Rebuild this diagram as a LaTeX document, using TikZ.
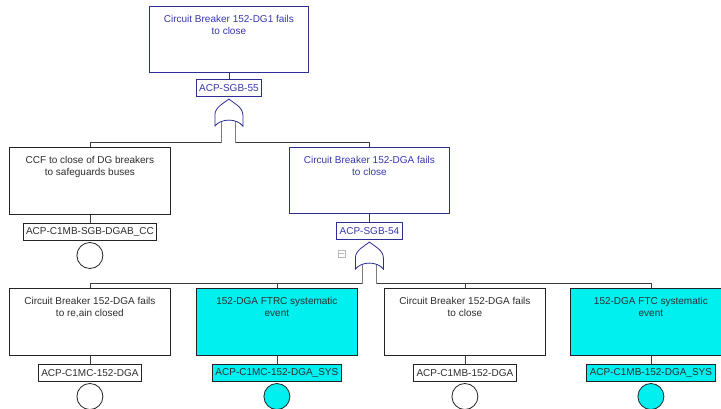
\documentclass[tikz,border=0pt]{standalone}
\usepackage{fontspec}
\setmainfont{Liberation Sans}
\usetikzlibrary{calc}
\definecolor{evblue}{RGB}{45,45,150}
\definecolor{txtblue}{RGB}{55,55,175}
\definecolor{evgray}{RGB}{35,35,35}
\definecolor{evtxt}{RGB}{45,45,45}
\definecolor{evcyan}{RGB}{0,240,240}
\definecolor{wirecol}{RGB}{60,60,60}
\definecolor{stemcol}{RGB}{125,125,125}
\definecolor{foldcol}{RGB}{185,185,185}

\begin{document}
\begin{tikzpicture}[x=1pt,y=-1pt,
  font=\fontsize{10}{12}\selectfont,
  evbox/.style={draw=evgray, line width=0.8pt, minimum width=161pt, minimum height=67pt, anchor=north west, inner sep=0pt},
  gatebox/.style={evbox, draw=evblue},
  sysbox/.style={evbox, fill=evcyan},
  evtext/.style={anchor=north, align=center, text=evtxt, inner sep=0pt, yshift=-9.5pt},
  gatetext/.style={evtext, text=txtblue},
  tagbase/.style={draw=evgray, line width=0.8pt, anchor=north, inner xsep=3pt, inner ysep=0pt, minimum height=17pt, text=evtxt},
  tag/.style={tagbase, yshift=-8pt},
  gatetag/.style={tagbase, draw=evblue, text=txtblue, yshift=-#1},
  systag/.style={tag, fill=evcyan},
  basic/.style={draw=evgray, line width=0.8pt, circle, minimum size=26pt, inner sep=0pt, anchor=north, yshift=-1.5pt},
  sysbasic/.style={basic, fill=evcyan},
  wire/.style={draw=wirecol, line width=0.8pt},
  stemline/.style={draw=stemcol, line width=0.9pt},
  orgate/.style={draw=evblue, line width=0.8pt, fill=white}
]
% canvas
\fill[white] (0,0) rectangle (721,409);
\useasboundingbox (0,0) rectangle (721,409);

% ---------- top event ----------
\node[gatebox, minimum width=159pt, minimum height=66pt] (top) at (149,6) {};
\node[gatetext] (toptxt) at (top.north) {Circuit Breaker 152-DG1 fails\\to close};
\node[gatetag=6pt] (tag55) at (top.south) {ACP-SGB-55};
\draw[wire] (top.south) -- (tag55.north);

% ---------- second level ----------
\node[evbox] (ccf) at (9,147) {};
\node[evtext] (ccftxt) at (ccf.north) {CCF to close of DG breakers\\to safeguards buses};
\node[tag] (tagcc) at (ccf.south) {ACP-C1MB-SGB-DGAB\_CC};
\node[basic] (ccfc) at (tagcc.south) {};
\draw[wire] (ccf.south) -- (tagcc.north);

\node[gatebox, minimum width=160pt, minimum height=66pt] (dga) at (289,147) {};
\node[gatetext] (dgatxt) at (dga.north) {Circuit Breaker 152-DGA fails\\to close};
\node[gatetag=8pt] (tag54) at (dga.south) {ACP-SGB-54};
\draw[wire] (dga.south) -- (tag54.north);

% collapse marker
\node[draw=foldcol, line width=0.6pt, minimum size=7pt, inner sep=0pt] (fold) at (341.5,253.5) {};
\draw[foldcol, line width=0.6pt] ($(fold.west)+(1.5,0)$) -- ($(fold.east)+(-1.5,0)$);

% ---------- bottom level ----------
\node[evbox] (b1) at (9,288) {};
\node[evtext] (b1txt) at (b1.north) {Circuit Breaker 152-DGA fails\\to re,ain closed};
\node[tag] (tagb1) at (b1.south) {ACP-C1MC-152-DGA};
\node[basic] (b1c) at (tagb1.south) {};
\draw[wire] (b1.south) -- (tagb1.north);

\node[sysbox] (b2) at (196,288) {};
\node[evtext] (b2txt) at (b2.north) {152-DGA FTRC systematic\\event};
\node[systag] (tagb2) at (b2.south) {ACP-C1MC-152-DGA\_SYS};
\node[sysbasic] (b2c) at (tagb2.south) {};
\draw[wire] (b2.south) -- (tagb2.north);

\node[evbox] (b3) at (384,288) {};
\node[evtext] (b3txt) at (b3.north) {Circuit Breaker 152-DGA fails\\to close};
\node[tag] (tagb3) at (b3.south) {ACP-C1MB-152-DGA};
\node[basic] (b3c) at (tagb3.south) {};
\draw[wire] (b3.south) -- (tagb3.north);

\node[sysbox] (b4) at (570,288) {};
\node[evtext] (b4txt) at (b4.north) {152-DGA FTC systematic\\event};
\node[systag] (tagb4) at (b4.south) {ACP-C1MB-152-DGA\_SYS};
\node[sysbasic] (b4c) at (tagb4.south) {};
\draw[wire] (b4.south) -- (tagb4.north);

% ---------- OR gate under ACP-SGB-55 ----------
\coordinate (g1L) at ($(tag55.south)+(-7,46)$);
\coordinate (g1R) at ($(tag55.south)+(7,46)$);
\draw[wire] (ccf.north) |- (g1L);
\draw[wire] (dga.north) |- (g1R);
\draw[stemline] (g1L) -- ++(0,-24);
\draw[stemline] (g1R) -- ++(0,-24);
\begin{scope}[shift={($(tag55.south)+(0,2.5)$)}]
  \draw[orgate] (0,0) .. controls (-5,4) and (-14,8) .. (-14,16) -- (-14,27)
    .. controls (-8,19) and (8,19) .. (14,27) -- (14,16)
    .. controls (14,8) and (5,4) .. (0,0) -- cycle;
\end{scope}

% ---------- OR gate under ACP-SGB-54 ----------
\coordinate (g2L) at ($(tag54.south)+(-7,44)$);
\coordinate (g2R) at ($(tag54.south)+(7,44)$);
\draw[wire] (b1.north) |- (g2L);
\draw[wire] (b2.north) -- (b2.north |- g2L);
\draw[wire] (b4.north) |- (g2R);
\draw[wire] (b3.north) -- (b3.north |- g2R);
\draw[stemline] (g2L) -- ++(0,-22);
\draw[stemline] (g2R) -- ++(0,-22);
\begin{scope}[shift={($(tag54.south)+(0,2.5)$)}]
  \draw[orgate] (0,0) .. controls (-5,4) and (-14,8) .. (-14,16) -- (-14,27)
    .. controls (-8,19) and (8,19) .. (14,27) -- (14,16)
    .. controls (14,8) and (5,4) .. (0,0) -- cycle;
\end{scope}
\end{tikzpicture}
\end{document}
